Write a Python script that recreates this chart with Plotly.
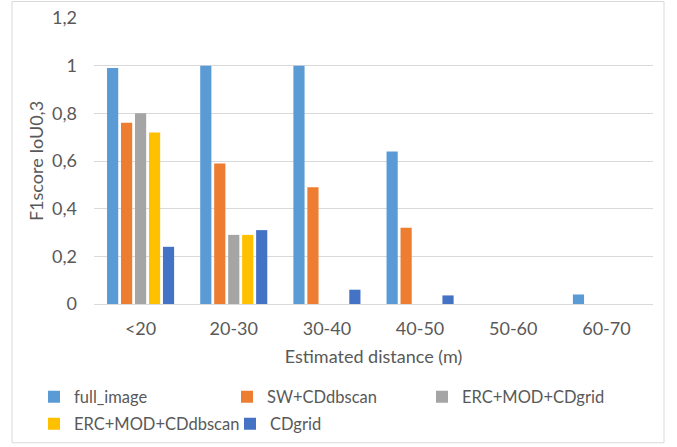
import plotly.graph_objects as go

categories = ["<20", "20-30", "30-40", "40-50", "50-60", "60-70"]
series_names = ["full_image", "SW+CDdbscan", "ERC+MOD+CDgrid", "ERC+MOD+CDdbscan", "CDgrid"]
full_image = [0.99, 1.0, 1.0, 0.64, 0, 0.04]
sw_cddbscan = [0.76, 0.59, 0.49, 0.32, 0, 0]
erc_mod_cdgrid = [0.80, 0.29, 0, 0, 0, 0]
erc_mod_cddbscan = [0.72, 0.29, 0, 0, 0, 0]
cdgrid = [0.24, 0.31, 0.06, 0.036, 0, 0]
y_ticks = [0, 0.2, 0.4, 0.6, 0.8, 1.0, 1.2]

values = [full_image, sw_cddbscan, erc_mod_cdgrid, erc_mod_cddbscan, cdgrid]
colors = ["#5B9BD5", "#ED7D31", "#A5A5A5", "#FFC000", "#4472C4"]

W, H = 677, 447
ml, mr, mt, mb = 94, 24, 17.5, 143
pw, ph = W - ml - mr, H - mt - mb

# legend entry placement (pixels): (left x, centre y)
legend_pos = [(34, 397), (227, 397), (422, 397), (34, 424), (230, 424)]
legend_ids = ["legend", "legend2", "legend3", "legend4", "legend5"]

fig = go.Figure()
for name, vals, col, lg in zip(series_names, values, colors, legend_ids):
    fig.add_trace(go.Bar(name=name, x=categories, y=vals, marker_color=col,
                         marker_line_width=0, legend=lg))

def px_x(x):
    return (x - ml) / pw

def px_y(y):
    return (H - mb - y) / ph

font = dict(family="Lato, Carlito, sans-serif", size=18, color="#595959")
lfont = dict(family="Lato, Carlito, sans-serif", size=16.5, color="#595959")

legends = {}
for lg, (lx, ly) in zip(legend_ids, legend_pos):
    legends[lg] = dict(orientation="h", xref="container", yref="container",
                       x=lx / W, y=1 - ly / H, yanchor="middle", xanchor="left",
                       font=lfont, bgcolor="rgba(0,0,0,0)", itemclick=False)

fig.update_layout(
    width=W, height=H,
    margin=dict(l=ml, r=mr, t=mt, b=mb, autoexpand=False),
    paper_bgcolor="white", plot_bgcolor="white",
    barmode="group", bargap=0.25, bargroupgap=0.2,
    separators=",.",
    font=font,
    xaxis=dict(showgrid=False, ticks="", showline=False, tickfont=font,
               ticklabelstandoff=12, automargin=False,
               title=dict(text="Estimated distance (m)", font=font, standoff=12)),
    yaxis=dict(range=[0, 1.2], tickvals=y_ticks, showgrid=True, gridcolor="#D9D9D9",
               gridwidth=1, zeroline=True, zerolinecolor="#D9D9D9", zerolinewidth=1,
               showline=False, ticks="", tickfont=font, ticklabelstandoff=16,
               automargin=False,
               title=dict(text="F1score IoU0,3", font=font, standoff=3)),
    showlegend=True,
    **legends,
)

fig.add_shape(type="rect", xref="paper", yref="paper",
              x0=px_x(12), x1=px_x(664), y0=px_y(443), y1=px_y(1),
              line=dict(color="#D9D9D9", width=1), fillcolor="rgba(0,0,0,0)", layer="below")

fig.write_html("out.html")
